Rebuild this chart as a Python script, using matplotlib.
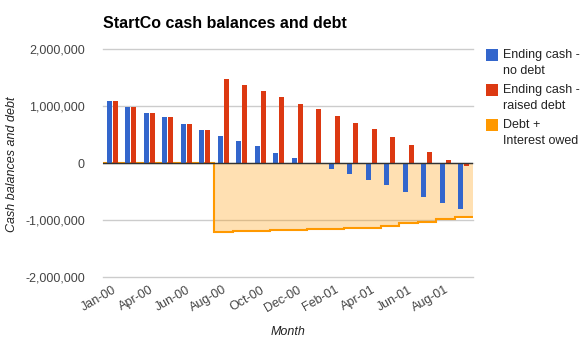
import numpy as np
import matplotlib
matplotlib.use('Agg')
import matplotlib.pyplot as plt
from matplotlib.patches import Rectangle
from matplotlib.ticker import FuncFormatter

plt.rcParams['font.family'] = ['Liberation Sans', 'DejaVu Sans']

# data
months = ["Jan-00", "Mar-00", "Apr-00", "May-00", "Jun-00", "Jul-00", "Aug-00",
          "Sep-00", "Oct-00", "Nov-00", "Dec-00", "Jan-01", "Feb-01", "Mar-01",
          "Apr-01", "May-01", "Jun-01", "Jul-01", "Aug-01", "Sep-01"]
cash_no_debt = [1090000, 990000, 880000, 800000, 690000, 580000, 480000, 390000,
                290000, 180000, 90000, 0, -100000, -190000, -290000, -390000,
                -500000, -590000, -700000, -800000]
cash_raised_debt = [1090000, 990000, 880000, 800000, 690000, 580000, 1480000,
                    1370000, 1270000, 1150000, 1040000, 940000, 830000, 710000,
                    600000, 460000, 320000, 200000, 60000, -60000]
debt_owed = [0, 0, 0, 0, 0, 0, -1205000, -1196000, -1187000, -1178000, -1170000,
             -1161000, -1152000, -1143000, -1135000, -1099000, -1058000,
             -1029000, -982000, -953000]
legend_labels = ["Ending cash -\nno debt", "Ending cash -\nraised debt",
                 "Debt +\nInterest owed"]

blue, red, orange = '#3366cc', '#dc3912', '#ff9900'

W, H = 584, 346
fig = plt.figure(figsize=(W / 100, H / 100), dpi=100)
ax = fig.add_axes([103 / W, 1 - 277 / H, 370 / W, 228 / H])

n = len(months)
x = np.arange(n)
edges = np.arange(n + 1) - 0.5

ax.stairs(debt_owed, edges, baseline=0, fill=True, color=orange, alpha=0.3,
          lw=0, zorder=1)
ax.stairs(debt_owed, edges, baseline=None, color=orange, lw=1.5, zorder=2)
ax.bar(x - 0.155, cash_no_debt, width=0.28, color=blue, zorder=3)
ax.bar(x + 0.155, cash_raised_debt, width=0.28, color=red, zorder=3)
ax.axhline(0, color='#333333', lw=1, zorder=4)

ax.set_xlim(-0.5, n - 0.5)
ax.set_ylim(-2000000, 2000000)
ax.set_yticks([-2000000, -1000000, 0, 1000000, 2000000])
ax.yaxis.set_major_formatter(FuncFormatter(lambda v, p: f'{int(v):,}'))
ax.yaxis.grid(True, color='#cccccc', lw=1)
ax.set_axisbelow(True)
for gl in ax.get_ygridlines():
    gl.set_clip_on(False)
for s in ax.spines.values():
    s.set_visible(False)

ax.set_xticks(x[::2])
ax.set_xticklabels(months[::2], rotation=30, ha='right', rotation_mode='anchor')
ax.tick_params(axis='both', length=0, labelsize=9, labelcolor='#444444')
ax.tick_params(axis='y', pad=13)
ax.tick_params(axis='x', pad=5)

fig.text(103 / W, 1 - 28 / H, 'StartCo cash balances and debt', fontsize=11.5,
         fontweight='bold', va='baseline', ha='left', color='black')
fig.text(12 / W, 1 - 164 / H, 'Cash balances and debt', rotation=90, fontsize=9,
         style='italic', va='center', ha='center', color='#222222')
fig.text(288 / W, 1 - 332 / H, 'Month', fontsize=9, style='italic',
         va='center', ha='center', color='#222222')

# legend, square next to first line of each entry
for i, (lab, col) in enumerate(zip(legend_labels, [blue, red, orange])):
    top = 49 + 35 * i
    fig.add_artist(Rectangle((486 / W, 1 - (top + 12) / H), 12 / W, 12 / H,
                             transform=fig.transFigure, color=col, lw=0))
    for j, line in enumerate(lab.split('\n')):
        fig.text(503 / W, 1 - (top + 6 + 16 * j) / H, line, fontsize=9,
                 va='center', ha='left', color='#222222')

fig.savefig('out.png', dpi=100, facecolor='white')
